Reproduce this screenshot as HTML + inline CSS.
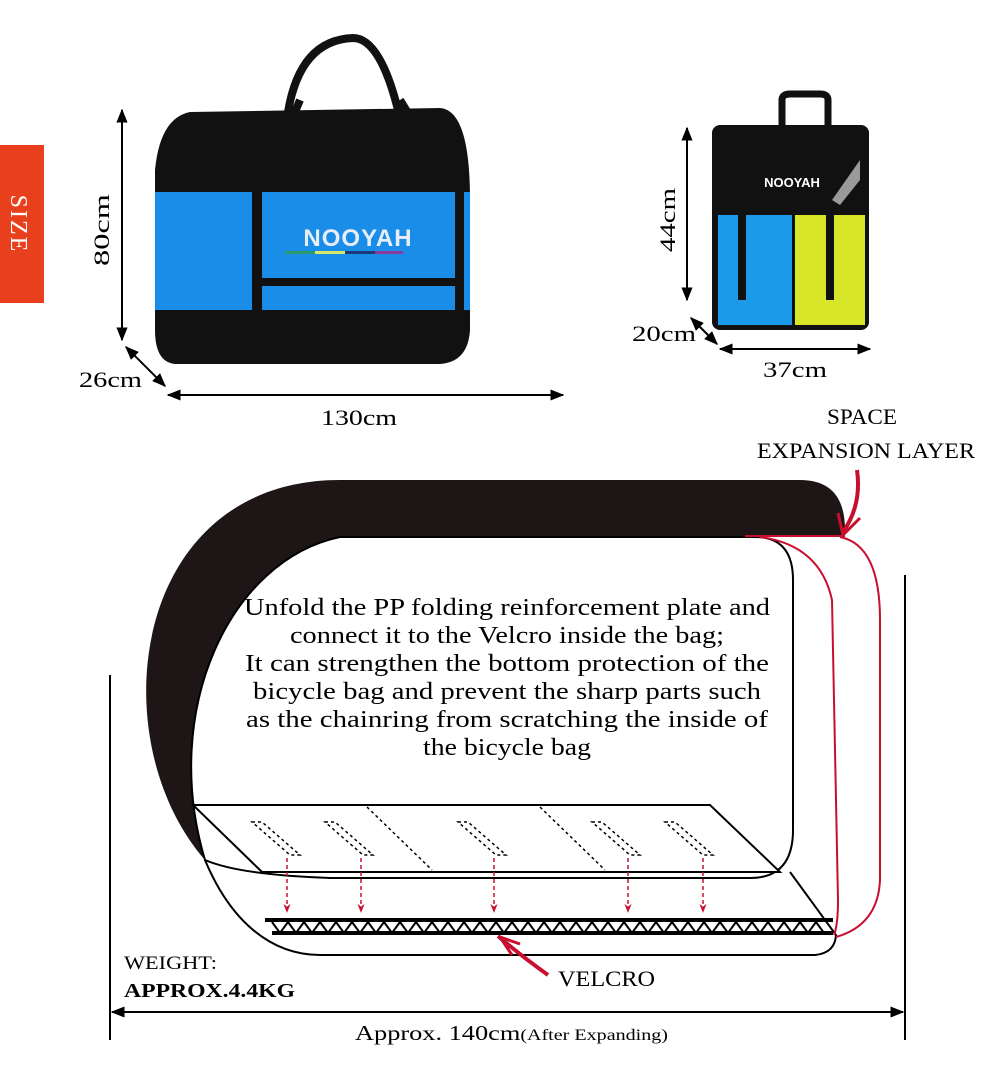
<!DOCTYPE html>
<html><head><meta charset="utf-8"><style>
html,body{margin:0;padding:0;background:#fff;}
svg{display:block;font-family:"Liberation Serif",serif;}
</style></head><body>
<svg width="991" height="1073" viewBox="0 0 991 1073" xmlns="http://www.w3.org/2000/svg">
<defs>
<marker id="ah" viewBox="0 0 10 10" refX="9" refY="5" markerWidth="7" markerHeight="7" orient="auto-start-reverse"><path d="M0,1 L10,5 L0,9 z" fill="#000"/></marker>
<marker id="rh" viewBox="0 0 10 10" refX="9" refY="5" markerWidth="6" markerHeight="8" orient="auto"><path d="M0,1 L10,5 L0,9 L3,5 z" fill="#c8102e"/></marker>
</defs>
<!-- SIZE tab -->
<rect x="0" y="145" width="44" height="158" fill="#e8401c"/>
<text transform="translate(11,224) rotate(90)" text-anchor="middle" font-size="24" fill="#fff" letter-spacing="2">SIZE</text>

<!-- big bag -->
<path d="M288,112 Q300,40 353,38 Q380,38 398,110" fill="none" stroke="#111" stroke-width="8"/>
<path d="M190,112 L440,108 Q470,110 470,200 L470,330 Q468,362 440,364 L175,364 Q155,362 155,330 L155,170 Q160,118 190,112 z" fill="#111"/>
<rect x="155" y="192" width="315" height="118" fill="#1a8de8"/>
<rect x="252" y="192" width="10" height="118" fill="#111"/>
<rect x="455" y="192" width="9" height="118" fill="#111"/>
<rect x="262" y="278" width="193" height="8" fill="#111"/>
<path d="M262,190 L300,100 M455,190 L400,100" stroke="#111" stroke-width="8"/>
<text x="358" y="246" text-anchor="middle" font-family="Liberation Sans,sans-serif" font-size="24" font-weight="bold" fill="#e8eef8" letter-spacing="1">NOOYAH</text>
<rect x="285" y="251" width="30" height="3" fill="#2a9a6a"/><rect x="315" y="251" width="30" height="3" fill="#d8e86a"/><rect x="345" y="251" width="30" height="3" fill="#1a3a7a"/><rect x="375" y="251" width="28" height="3" fill="#8a3a9a"/>

<!-- backpack -->
<path d="M782,130 L782,100 Q782,94 790,94 L820,94 Q828,94 828,100 L828,130" fill="none" stroke="#111" stroke-width="7"/>
<rect x="712" y="125" width="157" height="205" rx="8" fill="#111"/>
<rect x="718" y="215" width="74" height="110" fill="#1a9ae8"/>
<rect x="795" y="215" width="70" height="110" fill="#d8e62a"/>
<rect x="738" y="210" width="8" height="90" fill="#111"/><rect x="826" y="210" width="8" height="90" fill="#111"/>
<polygon points="832,200 860,160 860,180 840,205" fill="#9a9a9a"/>
<text x="792" y="187" text-anchor="middle" font-family="Liberation Sans,sans-serif" font-size="13" font-weight="bold" fill="#fff">NOOYAH</text>

<!-- dimension lines top -->
<g stroke="#000" stroke-width="2" fill="none">
<line x1="122" y1="110" x2="122" y2="340" marker-start="url(#ah)" marker-end="url(#ah)"/>
<line x1="126" y1="347" x2="165" y2="386" marker-start="url(#ah)" marker-end="url(#ah)"/>
<line x1="168" y1="395" x2="563" y2="395" marker-start="url(#ah)" marker-end="url(#ah)"/>
<line x1="687" y1="128" x2="687" y2="300" marker-start="url(#ah)" marker-end="url(#ah)"/>
<line x1="691" y1="318" x2="717" y2="344" marker-start="url(#ah)" marker-end="url(#ah)"/>
<line x1="720" y1="349" x2="870" y2="349" marker-start="url(#ah)" marker-end="url(#ah)"/>
</g>
<g font-size="22" fill="#000">
<text transform="translate(109,230) rotate(-90)" text-anchor="middle" textLength="72" lengthAdjust="spacingAndGlyphs">80cm</text>
<text x="79" y="387" textLength="63" lengthAdjust="spacingAndGlyphs">26cm</text>
<text x="321" y="425" textLength="76" lengthAdjust="spacingAndGlyphs">130cm</text>
<text transform="translate(675,220) rotate(-90)" text-anchor="middle" textLength="64" lengthAdjust="spacingAndGlyphs">44cm</text>
<text x="632" y="341" textLength="64" lengthAdjust="spacingAndGlyphs">20cm</text>
<text x="763" y="377" textLength="64" lengthAdjust="spacingAndGlyphs">37cm</text>
<text x="827" y="424" textLength="70" lengthAdjust="spacingAndGlyphs">SPACE</text>
<text x="757" y="458" textLength="218" lengthAdjust="spacingAndGlyphs">EXPANSION LAYER</text>
</g>

<!-- main diagram -->
<path d="M340,480 L800,480 Q845,480 845,530 L845,537 L340,537 C230,560 160,710 205,860 C100,740 130,480 340,480 z" fill="#1e1616"/>
<path d="M340,537 L755,537 Q793,537 793,580 L793,830 Q793,878 750,878 L330,878 Q240,875 205,860 C160,710 230,560 340,537 z" fill="#fff" stroke="#000" stroke-width="2"/>
<path d="M205,860 C230,920 270,955 320,955 L815,955 Q835,953 836,935 L790,872" fill="none" stroke="#000" stroke-width="2"/>
<!-- velcro -->
<rect x="265" y="918" width="568" height="4" fill="#000"/>
<rect x="272" y="931" width="561" height="4" fill="#000"/>
<path d="M272,922 L280,933 L288,922 L296,933 L304,922 L312,933 L320,922 L328,933 L336,922 L344,933 L352,922 L360,933 L368,922 L376,933 L384,922 L392,933 L400,922 L408,933 L416,922 L424,933 L432,922 L440,933 L448,922 L456,933 L464,922 L472,933 L480,922 L488,933 L496,922 L504,933 L512,922 L520,933 L528,922 L536,933 L544,922 L552,933 L560,922 L568,933 L576,922 L584,933 L592,922 L600,933 L608,922 L616,933 L624,922 L632,933 L640,922 L648,933 L656,922 L664,933 L672,922 L680,933 L688,922 L696,933 L704,922 L712,933 L720,922 L728,933 L736,922 L744,933 L752,922 L760,933 L768,922 L776,933 L784,922 L792,933 L800,922 L808,933 L816,922 L824,933" fill="none" stroke="#000" stroke-width="2"/>
<!-- plate -->
<polygon points="193,805 710,805 780,872 262,872" fill="#fff" stroke="#000" stroke-width="2"/>
<g fill="none" stroke="#000" stroke-width="1.5" stroke-dasharray="3,3">
<line x1="367" y1="807" x2="432" y2="870"/><line x1="540" y1="807" x2="605" y2="870"/>
<polygon points="252,822 262,822 300,855 290,855"/>
<polygon points="325,822 335,822 373,855 363,855"/>
<polygon points="458,822 468,822 506,855 496,855"/>
<polygon points="592,822 602,822 640,855 630,855"/>
<polygon points="665,822 675,822 713,855 703,855"/>
</g>
<g stroke="#c8102e" stroke-width="1.5" stroke-dasharray="4,3" fill="none">
<line x1="287" y1="858" x2="287" y2="912" marker-end="url(#rh)"/>
<line x1="361" y1="858" x2="361" y2="912" marker-end="url(#rh)"/>
<line x1="494" y1="858" x2="494" y2="912" marker-end="url(#rh)"/>
<line x1="628" y1="858" x2="628" y2="912" marker-end="url(#rh)"/>
<line x1="703" y1="858" x2="703" y2="912" marker-end="url(#rh)"/>
</g>
<!-- red expansion lines -->
<g stroke="#c8102e" stroke-width="2" fill="none">
<line x1="745" y1="536" x2="845" y2="536"/>
<path d="M760,537 Q820,545 832,600 L838,900 Q838,925 834,935"/>
<path d="M840,537 Q880,545 880,620 L880,880 Q878,925 836,937"/>
<path d="M857,470 Q862,505 843,532" stroke-width="4"/>
<path d="M838,513 L843,535 L860,518" stroke-width="3"/>
<path d="M548,975 Q520,955 498,936" stroke-width="4"/>
<path d="M500,937 L520,944 M500,937 L512,955" stroke-width="3"/>
</g>
<!-- dims bottom -->
<g stroke="#000" stroke-width="2" fill="none">
<line x1="110" y1="675" x2="110" y2="1040"/>
<line x1="905" y1="575" x2="905" y2="1040"/>
<line x1="112" y1="1012" x2="903" y2="1012" marker-start="url(#ah)" marker-end="url(#ah)"/>
</g>
<g font-size="24" fill="#000" text-anchor="middle" lengthAdjust="spacingAndGlyphs">
<text x="507" y="615" textLength="526" lengthAdjust="spacingAndGlyphs">Unfold the PP folding reinforcement plate and</text>
<text x="507" y="643" textLength="434" lengthAdjust="spacingAndGlyphs">connect it to the Velcro inside the bag;</text>
<text x="507" y="671" textLength="524" lengthAdjust="spacingAndGlyphs">It can strengthen the bottom protection of the</text>
<text x="507" y="699" textLength="508" lengthAdjust="spacingAndGlyphs">bicycle bag and prevent the sharp parts such</text>
<text x="507" y="727" textLength="522" lengthAdjust="spacingAndGlyphs">as the chainring from scratching the inside of</text>
<text x="507" y="755" textLength="168" lengthAdjust="spacingAndGlyphs">the bicycle bag</text>
</g>
<text x="558" y="986" font-size="22" textLength="97" lengthAdjust="spacingAndGlyphs">VELCRO</text>
<text x="124" y="969" font-size="19" textLength="93" lengthAdjust="spacingAndGlyphs">WEIGHT:</text>
<text x="124" y="997" font-size="20" font-weight="bold" textLength="171" lengthAdjust="spacingAndGlyphs">APPROX.4.4KG</text>
<text x="355" y="1040" font-size="21" textLength="313" lengthAdjust="spacingAndGlyphs">Approx. 140cm<tspan font-size="16">(After Expanding)</tspan></text>
</svg>
</body></html>
